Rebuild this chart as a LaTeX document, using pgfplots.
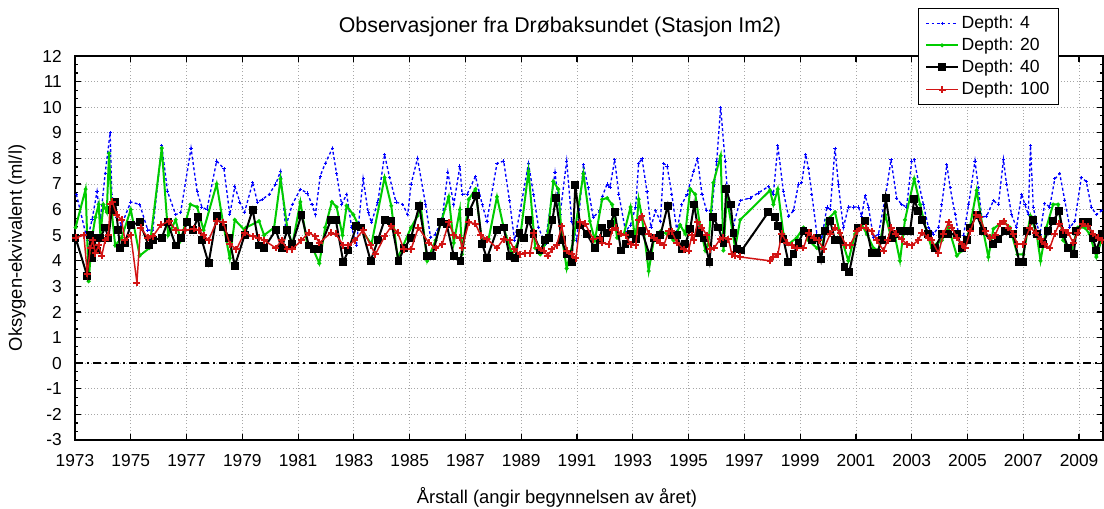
\documentclass[border=0pt]{standalone}
\usepackage{fontspec}
\setmainfont{Liberation Sans}
\usepackage{pgfplots}
\pgfplotsset{compat=1.18}
\usetikzlibrary{calc}
\definecolor{d4}{RGB}{0,0,255}
\definecolor{d20}{RGB}{0,204,0}
\definecolor{d100}{RGB}{210,20,20}
\newcommand{\tickfont}{\fontsize{13pt}{15pt}\selectfont}
\newcommand{\lblfont}{\fontsize{13.8pt}{16pt}\selectfont}
\newcommand{\legfont}{\fontsize{13.2pt}{15pt}\selectfont}

\begin{document}
\begin{tikzpicture}
\begin{axis}[
  scale only axis,
  width=771pt, height=288pt,
  xmin=1973, xmax=2009.86,
  ymin=-3, ymax=12,
  xtick={1973,1975,...,2009},
  minor x tick num=1,
  ytick={-3,-2,...,12},
  minor y tick num=2,
  xtick pos=both, ytick pos=both,
  tick align=inside,
  major tick length=4.5pt, minor tick length=2.5pt,
  every axis/.append style={line width=1.2pt},
  every tick/.style={black, line width=0.9pt},
  grid=major,
  grid style={dotted, gray!70, line width=0.6pt},
  /pgf/number format/assume math mode=true,
  xticklabel style={/pgf/number format/1000 sep={}, font=\tickfont, yshift=-7pt},
  yticklabel style={font=\tickfont, xshift=-6pt},
  legend style={at={(0.820,1.125)}, anchor=north west, font=\legfont,
    draw=black, line width=0.8pt, fill=white, row sep=1.5pt, inner xsep=5pt, inner ysep=3.5pt},
  legend cell align=left,
  legend image code/.code={\draw[mark repeat=2,mark phase=2,#1] plot coordinates {(0cm,0cm)(0.42cm,0cm)(0.84cm,0cm)};},
  clip mode=individual,
]
\coordinate (SW) at (rel axis cs:0,0);
\coordinate (NE) at (rel axis cs:1,1);

% Depth 4
\addplot[d4, line width=1pt, dash pattern=on 2.2pt off 1.8pt, mark=+, mark size=1.2pt, mark options={solid, line width=0.6pt}]
coordinates {
(1973.05,6.6)(1973.44,4.8)(1973.61,5.6)(1973.79,6.7)(1973.91,5.6)(1974.08,7.4)(1974.26,9.0)(1974.32,6.6)(1974.49,5.7)(1974.67,5.4)
(1975.00,6.3)(1975.32,6.2)(1975.61,5.2)(1975.79,5.2)(1976.11,8.5)(1976.32,6.7)(1976.61,5.8)(1976.79,5.9)(1977.16,8.4)(1977.38,6.7)
(1977.55,6.1)(1977.73,6.0)(1978.08,7.9)(1978.34,7.6)(1978.55,5.8)(1978.73,6.9)(1978.91,6.3)(1979.08,5.9)
(1979.37,7.05)(1979.54,6.3)(1979.72,6.4)(1979.96,6.6)(1980.20,7.0)(1980.37,7.5)(1980.55,5.3)(1980.79,6.2)(1981.08,6.8)(1981.32,6.65)
(1981.50,6.2)(1981.62,5.8)(1981.79,7.3)(1981.97,7.8)(1982.23,8.4)(1982.38,7.4)(1982.56,6.2)(1982.74,6.6)(1982.92,5.3)(1983.09,4.6)
(1983.33,7.2)(1983.51,5.9)(1983.63,5.5)(1983.86,6.3)(1984.10,8.15)(1984.28,7.25)(1984.51,6.3)(1984.75,6.2)(1984.93,5.8)(1985.05,7.0)
(1985.28,8.0)
(1985.57,6.2)(1985.75,4.9)(1985.93,5.05)(1986.17,5.7)(1986.37,7.45)(1986.58,6.2)(1986.80,7.7)(1986.88,6.6)(1987.06,6.6)(1987.36,7.3)
(1987.60,6.2)(1987.77,5.55)(1988.13,7.8)(1988.37,7.9)(1988.58,6.35)(1988.76,4.8)(1988.96,5.95)(1989.26,7.8)(1989.44,6.6)(1989.62,5.3)
(1989.86,4.65)(1990.21,7.45)(1990.39,5.8)(1990.63,7.9)(1990.81,5.55)(1990.99,4.8)(1991.23,7.75)(1991.40,6.85)(1991.58,5.7)(1991.82,5.95)
(1991.90,6.5)(1992.08,7.0)(1992.18,6.85)(1992.35,7.95)(1992.50,6.6)(1992.74,5.15)(1992.92,5.4)(1993.10,6.1)(1993.21,7.8)(1993.33,8.0)
(1993.51,6.7)(1993.65,5.3)(1993.81,5.95)(1993.99,5.55)(1994.11,7.8)(1994.23,7.7)(1994.40,6.6)(1994.58,5.15)(1994.76,6.2)(1994.94,6.6)
(1995.18,7.5)(1995.32,8.0)(1995.48,6.6)(1995.65,5.95)(1995.83,5.95)(1996.01,7.9)(1996.15,10.0)(1996.31,7.9)(1996.43,6.2)(1996.61,5.4)
(1996.85,6.35)(1997.20,6.45)(1997.50,6.65)(1997.86,6.9)
(1998.04,6.6)(1998.20,8.5)(1998.40,6.7)(1998.58,5.75)(1998.76,5.95)(1998.94,7.0)(1999.06,7.05)(1999.20,8.15)(1999.30,7.6)(1999.42,6.6)
(1999.60,5.05)(1999.78,4.9)(1999.96,6.1)(2000.08,6.0)(2000.25,8.4)(2000.37,7.0)(2000.55,5.3)(2000.73,6.1)(2000.91,6.1)(2001.09,6.1)
(2001.21,5.75)(2001.33,6.55)(2001.45,6.1)(2001.63,4.9)(2001.81,5.05)(2002.05,6.45)(2002.26,7.95)(2002.46,6.45)(2002.64,6.2)(2002.82,6.1)
(2003.00,7.9)(2003.09,7.95)(2003.24,7.1)(2003.42,6.2)(2003.60,5.3)(2003.78,5.05)(2003.96,5.3)(2004.08,6.2)(2004.26,7.75)
(2004.38,6.85)(2004.56,5.8)(2004.68,5.05)(2004.86,5.0)(2005.04,6.2)(2005.27,7.9)(2005.39,6.85)(2005.51,5.7)(2005.69,5.75)(2005.93,6.35)
(2006.11,6.2)(2006.29,7.95)(2006.40,7.0)(2006.58,5.8)(2006.76,5.3)(2006.94,6.6)(2007.06,6.2)(2007.18,5.8)(2007.26,8.5)(2007.36,6.1)
(2007.48,5.45)(2007.60,5.05)(2007.77,6.25)(2007.95,6.1)(2008.13,7.2)(2008.31,7.4)(2008.49,6.35)(2008.67,5.3)(2008.85,5.55)(2009.08,7.25)
(2009.26,7.1)(2009.44,6.1)(2009.62,5.8)(2009.80,5.95)
};
\addlegendentry{Depth: 4}

% Depth 20
\addplot[d20, line width=1.5pt, mark=*, mark size=0.6pt]
coordinates {
(1973.02,5.3)(1973.38,6.8)(1973.49,3.2)(1973.61,4.9)(1973.73,5.7)(1973.85,6.2)(1973.91,5.0)(1974.02,6.2)(1974.14,5.9)(1974.22,8.2)
(1974.32,5.9)(1974.44,4.6)(1974.67,4.9)(1975.00,6.0)(1975.32,4.2)(1975.67,4.5)(1976.11,8.4)(1976.34,5.0)(1976.61,5.6)(1976.79,4.8)
(1977.14,6.2)(1977.38,6.1)(1977.61,5.2)(1978.08,7.0)(1978.32,5.4)(1978.55,4.1)(1978.73,5.6)(1979.08,5.2)
(1979.13,5.3)(1979.60,5.55)(1979.78,5.0)(1980.14,5.3)(1980.37,7.2)(1980.61,5.3)(1980.79,4.6)(1981.08,6.3)(1981.32,4.7)(1981.56,4.4)
(1981.76,3.9)(1981.97,5.3)(1982.21,6.3)(1982.38,6.1)(1982.59,5.0)(1982.74,6.15)(1982.98,5.8)(1983.21,5.3)(1983.63,4.65)(1984.10,7.25)
(1984.34,6.15)(1984.57,4.1)(1985.05,5.3)(1985.28,5.75)
(1985.39,6.2)(1985.63,4.0)(1985.93,4.8)(1986.40,6.5)(1986.58,4.7)(1986.80,6.0)(1986.88,4.25)(1987.12,6.4)(1987.36,6.8)(1987.60,4.65)
(1987.83,4.85)(1988.13,6.5)(1988.37,5.3)(1988.67,4.25)(1988.96,4.9)(1989.26,7.5)(1989.50,4.5)(1989.68,4.25)(1989.92,4.8)(1990.15,7.1)
(1990.33,6.8)(1990.45,5.0)(1990.63,3.7)(1990.87,4.8)(1991.23,7.4)(1991.46,5.55)(1991.64,4.8)
(1991.90,6.4)(1992.08,6.45)(1992.26,6.2)(1992.44,4.9)(1992.68,5.05)(1992.92,6.1)(1993.10,4.8)(1993.21,6.4)(1993.33,5.7)(1993.57,3.6)
(1993.75,4.8)(1993.99,5.15)(1994.23,5.05)(1994.46,4.8)(1994.70,5.4)(1994.88,5.05)(1995.06,6.8)(1995.24,6.6)(1995.42,5.3)(1995.60,4.4)
(1995.71,4.65)(1995.89,7.05)(1996.15,8.1)(1996.25,4.4)(1996.37,6.5)(1996.67,4.5)(1996.85,5.6)(1997.92,6.75)
(1998.04,6.2)(1998.20,6.8)(1998.40,5.05)(1998.58,4.65)(1998.88,4.9)(1999.12,5.3)(1999.30,4.8)(1999.60,4.5)(1999.78,4.5)(1999.96,5.6)
(2000.25,5.9)(2000.43,5.05)(2000.73,4.0)(2000.97,5.05)(2001.21,5.4)(2001.39,5.05)(2001.63,4.5)(2001.81,4.4)(2002.05,5.8)(2002.23,5.05)
(2002.41,4.9)(2002.58,4.0)(2002.76,5.6)(2003.09,7.2)(2003.30,6.2)(2003.54,5.1)(2003.72,4.5)(2003.90,4.65)(2004.08,4.8)(2004.32,5.3)
(2004.62,4.2)(2004.80,4.4)(2005.04,5.05)(2005.33,6.75)(2005.57,5.15)(2005.75,4.15)(2005.93,5.25)(2006.29,5.55)(2006.52,5.3)(2006.79,4.25)
(2007.00,4.25)(2007.26,5.75)(2007.48,5.05)(2007.62,4.0)(2007.83,5.3)(2008.07,6.2)(2008.25,6.2)(2008.43,4.8)(2008.73,4.4)(2008.96,5.3)
(2009.20,5.3)(2009.38,5.05)(2009.62,4.15)(2009.80,4.8)
};
\addlegendentry{Depth: 20}

% Depth 40
\addplot[black, line width=1.5pt, mark=square*, mark size=2.2pt]
coordinates {
(1973.02,4.9)(1973.44,3.4)(1973.55,5.0)(1973.61,4.1)(1973.67,4.9)(1973.79,4.4)(1973.91,4.9)(1974.08,5.3)(1974.20,4.9)(1974.32,6.0)
(1974.44,6.3)(1974.55,5.2)(1974.61,4.5)(1974.79,4.7)(1975.00,5.4)(1975.32,5.5)(1975.64,4.6)(1975.79,4.8)(1976.11,4.9)(1976.32,5.5)
(1976.61,4.6)(1976.81,4.9)(1977.02,5.5)(1977.24,5.2)(1977.40,5.7)(1977.55,4.8)(1977.79,3.9)(1978.08,5.75)(1978.32,5.3)(1978.53,4.9)
(1978.73,3.8)(1979.08,5.0)
(1979.37,6.0)(1979.60,4.6)(1979.78,4.5)(1980.20,5.2)(1980.41,4.5)(1980.61,5.2)(1980.79,4.65)(1981.12,5.8)(1981.38,4.6)(1981.56,4.45)
(1981.76,4.45)(1982.18,5.6)(1982.35,5.6)(1982.62,3.95)(1982.80,4.4)(1983.09,5.35)(1983.27,5.3)(1983.60,4.0)(1983.86,4.8)(1984.10,5.6)
(1984.34,5.55)(1984.60,4.0)(1984.81,4.5)(1985.05,4.9)(1985.34,6.15)
(1985.63,4.2)(1985.81,4.2)(1986.11,5.5)(1986.32,5.45)(1986.58,4.2)(1986.82,4.0)(1987.12,5.9)(1987.39,6.55)(1987.60,4.65)(1987.77,4.1)
(1988.13,5.2)(1988.37,5.3)(1988.58,4.2)(1988.79,4.1)(1988.94,5.1)(1989.11,4.9)(1989.26,5.6)(1989.44,5.05)(1989.68,4.4)(1989.86,4.8)
(1989.98,4.9)(1990.12,5.6)(1990.24,6.45)(1990.45,4.8)(1990.63,4.25)(1990.81,3.95)(1990.94,6.95)(1991.11,5.4)(1991.35,5.05)(1991.64,4.5)
(1991.82,4.8)
(1991.90,5.3)(1992.08,5.1)(1992.20,5.45)(1992.35,5.9)(1992.58,4.4)(1992.74,4.65)(1992.92,5.05)(1993.10,4.85)(1993.33,5.15)(1993.61,4.2)
(1993.75,4.9)(1993.99,5.0)(1994.25,6.15)(1994.40,5.0)(1994.58,5.0)(1994.76,4.45)(1994.88,4.65)(1995.06,5.25)(1995.20,6.2)(1995.36,5.1)
(1995.54,4.9)(1995.75,3.95)(1995.89,5.7)(1996.07,5.3)(1996.25,4.7)(1996.35,6.8)(1996.51,6.2)(1996.61,5.1)(1996.75,4.45)(1996.90,4.4)
(1997.86,5.9)
(1998.10,5.7)(1998.22,5.35)(1998.40,4.85)(1998.58,3.95)(1998.76,4.25)(1998.94,4.7)(1999.12,5.15)(1999.30,5.1)(1999.42,4.8)(1999.60,4.9)
(1999.75,4.05)(1999.90,5.15)(2000.08,5.55)(2000.25,4.8)(2000.43,4.8)(2000.59,3.75)(2000.76,3.55)(2001.09,5.3)(2001.33,5.55)(2001.57,4.3)
(2001.75,4.3)(2001.93,4.8)(2002.07,6.45)(2002.29,4.9)(2002.41,5.05)(2002.58,5.15)(2002.76,5.15)(2002.94,5.15)(2003.09,6.4)(2003.24,5.95)
(2003.38,5.6)(2003.60,5.05)(2003.84,4.5)(2004.08,5.05)(2004.32,5.05)
(2004.62,5.05)(2004.80,4.5)(2004.98,4.8)(2005.10,5.3)(2005.33,5.8)(2005.57,5.15)(2005.93,4.65)(2006.11,4.85)(2006.35,5.15)(2006.64,5.05)
(2006.86,3.95)(2006.98,3.95)(2007.12,5.15)(2007.36,5.6)(2007.48,5.05)(2007.71,4.65)(2007.89,5.15)(2008.07,5.55)(2008.29,5.95)(2008.43,5.05)
(2008.61,4.5)(2008.81,4.25)(2008.90,5.15)(2009.14,5.5)(2009.32,5.5)(2009.50,4.9)(2009.62,4.4)(2009.82,5.05)
};
\addlegendentry{Depth: 40}

% Depth 100
\addplot[d100, line width=1.1pt, mark=+, mark size=2.6pt, mark options={line width=1.5pt}]
coordinates {
(1973.02,4.9)(1973.32,5.0)(1973.44,3.5)(1973.55,4.5)(1973.64,4.8)(1973.73,4.3)(1973.85,4.6)(1973.96,4.2)(1974.08,4.8)(1974.20,5.0)
(1974.26,6.2)(1974.34,6.3)(1974.49,5.8)(1974.67,5.6)(1974.79,4.8)(1975.00,5.0)(1975.22,3.15)(1975.35,5.3)(1975.61,4.9)(1975.79,4.95)
(1976.08,5.4)(1976.38,5.55)(1976.61,5.2)(1976.96,5.2)(1977.26,5.25)(1977.44,5.2)(1977.61,5.0)(1977.79,4.8)(1978.08,5.55)(1978.32,5.5)
(1978.55,4.65)(1978.79,4.45)(1979.08,5.1)
(1979.37,4.95)(1979.58,4.9)(1979.78,4.8)(1980.20,4.5)(1980.41,4.8)(1980.61,4.45)(1980.79,4.45)(1981.12,4.8)(1981.38,5.1)(1981.62,4.95)
(1981.76,4.7)(1982.18,5.1)(1982.35,5.05)(1982.62,4.6)(1982.80,4.6)(1983.04,4.8)(1983.33,5.2)(1983.60,4.6)(1983.77,4.25)(1984.10,4.95)
(1984.34,5.35)(1984.57,5.1)(1984.79,4.45)(1985.05,4.45)(1985.31,5.3)
(1985.69,4.7)(1985.93,4.5)(1986.17,4.65)(1986.40,5.5)(1986.58,5.0)(1986.80,4.9)(1986.88,4.5)(1987.12,5.5)(1987.36,5.45)(1987.54,5.0)
(1987.77,4.85)(1988.13,4.5)(1988.37,4.85)(1988.58,4.8)(1988.75,4.45)(1988.96,4.25)(1989.14,4.3)(1989.32,4.3)(1989.44,5.1)(1989.62,4.5)
(1989.80,4.4)(1989.95,4.2)(1990.10,4.45)(1990.27,4.6)(1990.45,5.35)(1990.63,4.4)(1990.81,4.25)(1990.96,4.1)(1991.11,5.5)(1991.29,5.45)
(1991.58,4.85)(1991.82,4.9)
(1991.90,4.7)(1992.14,4.65)(1992.26,5.2)(1992.38,5.3)(1992.56,5.05)(1992.74,5.0)(1992.92,4.65)(1993.10,4.6)(1993.21,5.6)(1993.33,5.75)
(1993.57,5.05)(1993.75,4.9)(1993.87,4.8)(1993.99,4.7)(1994.11,4.6)(1994.29,5.15)(1994.40,5.15)(1994.58,4.7)(1994.82,4.45)(1995.00,4.4)
(1995.12,5.0)(1995.18,4.8)(1995.32,5.5)(1995.48,5.3)(1995.65,5.0)(1995.77,4.45)(1995.92,4.5)(1996.13,4.85)(1996.25,4.9)(1996.43,4.85)
(1996.55,4.25)(1996.67,4.2)(1996.85,4.15)(1997.92,4.0)
(1998.04,4.15)(1998.20,4.25)(1998.34,5.05)(1998.52,4.7)(1998.70,4.6)(1998.88,4.5)(1999.12,4.5)(1999.30,5.1)(1999.48,4.9)(1999.66,4.8)
(1999.84,4.45)(2000.08,5.05)(2000.25,5.3)(2000.43,5.1)(2000.64,4.6)(2000.79,4.6)(2001.03,5.15)(2001.19,5.3)(2001.35,5.3)(2001.57,5.15)
(2001.75,4.8)(2001.99,4.4)(2002.14,4.8)(2002.26,5.3)(2002.43,5.05)(2002.64,4.85)(2002.82,4.65)(2003.00,4.6)(2003.24,4.8)(2003.36,5.1)
(2003.60,4.9)(2003.72,4.8)(2003.96,4.3)(2004.14,5.05)(2004.32,5.5)
(2004.44,5.3)(2004.62,4.9)(2004.80,4.65)(2004.92,4.5)(2005.10,5.15)(2005.31,5.8)(2005.45,5.7)(2005.63,5.15)(2005.81,4.9)(2005.99,5.0)
(2006.17,5.45)(2006.31,5.55)(2006.46,5.3)(2006.64,5.05)(2006.79,4.65)(2007.00,4.65)(2007.24,5.3)(2007.45,5.1)(2007.62,4.85)(2007.77,4.65)
(2007.95,4.5)(2008.13,5.05)(2008.29,5.45)(2008.43,5.2)(2008.61,5.1)(2008.79,4.7)(2008.96,5.1)(2009.14,5.45)(2009.32,5.35)(2009.50,5.05)
(2009.68,4.9)(2009.82,4.8)
};
\addlegendentry{Depth: 100}

% zero line
\addplot[black, line width=1.2pt, dash pattern=on 6pt off 3pt on 1.5pt off 3pt, forget plot]
coordinates {(1973,0)(2009.86,0)};
\end{axis}

\node[font=\fontsize{16pt}{18pt}\selectfont] at ($(SW)+(363.75pt,0)+(0,288pt)+(0,21.75pt)$) {Observasjoner fra Drøbaksundet (Stasjon Im2)};
\node[font=\lblfont] at ($(SW)+(361.5pt,-42.75pt)$) {Årstall (angir begynnelsen av året)};
\node[font=\lblfont, rotate=90] at ($(SW)+(-43.5pt,144pt)$) {Oksygen-ekvivalent (ml/l)};

\pgfresetboundingbox
\useasboundingbox ($(SW)+(-56.25pt,-51pt)$) rectangle ($(NE)+(0.75pt,42pt)$);
\end{tikzpicture}
\end{document}
